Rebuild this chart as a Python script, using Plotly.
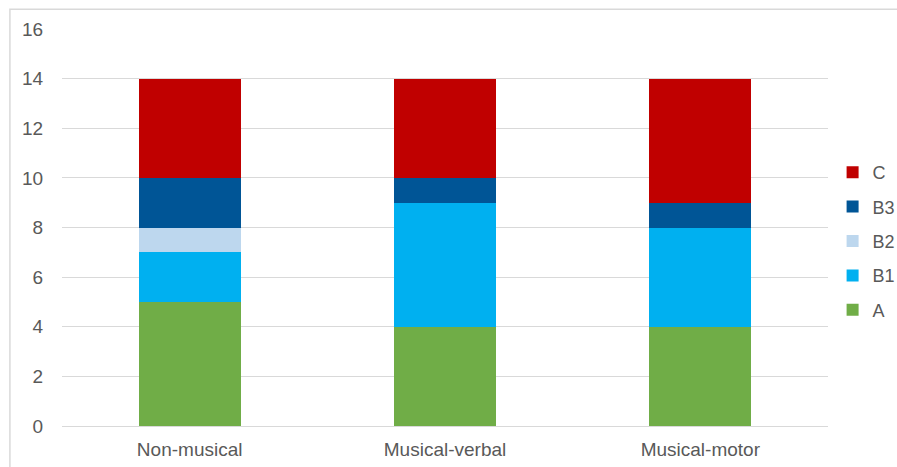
import plotly.graph_objects as go

categories = ["Non-musical", "Musical-verbal", "Musical-motor"]
series_names = ["A", "B1", "B2", "B3", "C"]
A = [5, 4, 4]
B1 = [2, 5, 4]
B2 = [1, 0, 0]
B3 = [2, 1, 1]
C = [4, 4, 5]
colors = ["#70ad47", "#00b0f0", "#bdd7ee", "#005596", "#c00000"]
ranks = [5, 4, 3, 2, 1]

fig = go.Figure()
for name, vals, col, rk in zip(series_names, [A, B1, B2, B3, C], colors, ranks):
    fig.add_trace(go.Bar(x=categories, y=vals, name=name, legendgroup=name, legendrank=rk,
                         marker=dict(color=col, line=dict(width=0))))

fig.update_layout(
    barmode="stack",
    bargap=0.6,
    width=897, height=467,
    margin=dict(l=62, r=69, t=29, b=41, autoexpand=False),
    paper_bgcolor="white", plot_bgcolor="white",
    font=dict(family="Liberation Sans, Arial, sans-serif", size=17, color="#595959"),
    legend=dict(traceorder="grouped", x=1.006, xanchor="left", y=0.466, yanchor="middle",
                font=dict(size=18, color="#595959"), itemwidth=30, tracegroupgap=8,
                bgcolor="rgba(0,0,0,0)"),
    showlegend=True,
)
fig.update_yaxes(range=[0, 16], dtick=2, showgrid=True, gridcolor="#d9d9d9", gridwidth=1,
                 zeroline=False, showline=False, ticks="outside", ticklen=14, tickcolor="rgba(0,0,0,0)",
                 tickfont=dict(size=19))
fig.update_xaxes(showline=True, linecolor="#d9d9d9", linewidth=1, ticks="outside", ticklen=6,
                 tickcolor="rgba(0,0,0,0)", tickfont=dict(size=19))
fig.add_shape(type="rect", xref="paper", yref="paper", x0=-0.068, y0=-0.2, x1=1.2, y1=1.05,
              line=dict(color="#d9d9d9", width=1.5), fillcolor="rgba(0,0,0,0)", layer="below")

fig.write_html("out.html", config={"displayModeBar": False},
               post_script="document.body.style.margin='0';document.body.style.overflow='hidden';")
